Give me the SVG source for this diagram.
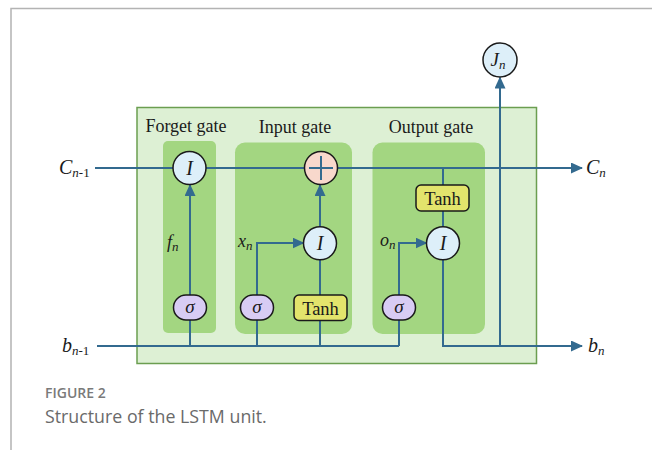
<svg xmlns="http://www.w3.org/2000/svg" width="652" height="450" viewBox="0 0 652 450">
<defs>
<marker id="ah" markerWidth="12" markerHeight="11" refX="11" refY="5.5" orient="auto" markerUnits="userSpaceOnUse">
<path d="M0,0 L12,5.5 L0,11 Z" fill="#336a8f"/>
</marker>
<style>
.ln{fill:none;stroke:#336a8f;stroke-width:2}
.circ{fill:#ddeff9;stroke:#1a1a1a;stroke-width:1.5}
.plus{fill:#f8d8cc;stroke:#1a1a1a;stroke-width:1.5}
.sig{fill:#d8ccf4;stroke:#1a1a1a;stroke-width:1.5}
.tanh{fill:#e3e46c;stroke:#1a1a1a;stroke-width:1.5}
.gate{fill:#a3d681}
.t{font-family:"Liberation Serif","Times New Roman",serif;fill:#1a1a1a}
.m{font-family:"Liberation Serif","Times New Roman",serif;font-style:italic;fill:#1a1a1a}
</style>
</defs>
<rect width="652" height="450" fill="#fff"/>
<path d="M11,450 V8.5 H652" fill="none" stroke="#b3b3b3" stroke-width="1.5"/>

<g id="outer">
<rect x="137" y="107.5" width="399.5" height="256" fill="#ddf0d4" stroke="#6b9e50" stroke-width="1.5"/>
</g>
<g id="forget-gate">
<rect class="gate" x="163" y="141" width="53" height="192" rx="5"/>
<text class="t" x="186" y="132" font-size="18" text-anchor="middle">Forget gate</text>
</g>
<g id="input-gate">
<rect class="gate" x="235" y="142.5" width="117" height="191.5" rx="10"/>
<text class="t" x="295" y="133" font-size="18" text-anchor="middle">Input gate</text>
</g>
<g id="output-gate">
<rect class="gate" x="372.5" y="142.5" width="112.5" height="191.5" rx="10"/>
<text class="t" x="431" y="133" font-size="18" text-anchor="middle">Output gate</text>
</g>

<g id="connectors">
<line class="ln" x1="95" y1="168" x2="173" y2="168"/>
<line class="ln" x1="206" y1="168" x2="304" y2="168"/>
<line class="ln" x1="338" y1="168" x2="582" y2="168" marker-end="url(#ah)"/>
<line class="ln" x1="97" y1="346" x2="399" y2="346"/>
<line class="ln" x1="399" y1="346" x2="399" y2="320"/>
<line class="ln" x1="190" y1="346" x2="190" y2="320"/>
<line class="ln" x1="257" y1="346" x2="257" y2="320"/>
<line class="ln" x1="320" y1="346" x2="320" y2="320"/>
<line class="ln" x1="190" y1="295" x2="190" y2="185" marker-end="url(#ah)"/>
<polyline class="ln" points="257,295 257,243 303.5,243" marker-end="url(#ah)"/>
<line class="ln" x1="320" y1="295" x2="320" y2="260"/>
<line class="ln" x1="320" y1="227" x2="320" y2="185" marker-end="url(#ah)"/>
<polyline class="ln" points="399,295 399,243 426.5,243" marker-end="url(#ah)"/>
<line class="ln" x1="443" y1="168" x2="443" y2="185"/>
<line class="ln" x1="443" y1="211" x2="443" y2="227"/>
<polyline class="ln" points="443,260 443,346 582,346" marker-end="url(#ah)"/>
<line class="ln" x1="500" y1="346" x2="500" y2="77.5" marker-end="url(#ah)"/>
</g>

<g id="forget-I">
<circle class="circ" cx="189.5" cy="168" r="16.5"/>
<text class="m" x="189.5" y="175" font-size="20" text-anchor="middle">I</text>
</g>
<g id="plus">
<circle class="plus" cx="321" cy="168" r="16.5"/>
<path d="M309,168 H333 M321,156 V180" stroke="#336a8f" stroke-width="2"/>
</g>
<g id="input-I">
<circle class="circ" cx="320" cy="243.3" r="16.5"/>
<text class="m" x="320" y="250.3" font-size="20" text-anchor="middle">I</text>
</g>
<g id="output-I">
<circle class="circ" cx="443" cy="243.3" r="16.5"/>
<text class="m" x="443" y="250.3" font-size="20" text-anchor="middle">I</text>
</g>
<g id="J">
<circle class="circ" cx="500" cy="60" r="17"/>
<text class="m" x="498" y="66" font-size="19" text-anchor="middle">J<tspan font-size="13" dy="3">n</tspan></text>
</g>
<g id="output-tanh">
<rect class="tanh" x="416" y="185" width="53" height="26" rx="5"/>
<text class="t" x="442.5" y="204.5" font-size="18.5" text-anchor="middle">Tanh</text>
</g>
<g id="input-tanh">
<rect class="tanh" x="294" y="295" width="53" height="25.5" rx="5"/>
<text class="t" x="320.5" y="314.5" font-size="18.5" text-anchor="middle">Tanh</text>
</g>
<g id="forget-sigma">
<rect class="sig" x="173.5" y="295" width="33" height="25" rx="12.5"/>
<text class="m" x="190" y="313" font-size="19" text-anchor="middle">σ</text>
</g>
<g id="input-sigma">
<rect class="sig" x="240.5" y="295" width="33" height="25" rx="12.5"/>
<text class="m" x="257" y="313" font-size="19" text-anchor="middle">σ</text>
</g>
<g id="output-sigma">
<rect class="sig" x="382.5" y="295" width="33" height="25" rx="12.5"/>
<text class="m" x="399" y="313" font-size="19" text-anchor="middle">σ</text>
</g>

<g id="labels">
<text class="m" x="59" y="174" font-size="20">C<tspan font-size="13" dy="3">n</tspan><tspan font-size="13" font-style="normal">-1</tspan></text>
<text class="m" x="586" y="174" font-size="20">C<tspan font-size="13" dy="3">n</tspan></text>
<text class="m" x="62" y="352" font-size="20">b<tspan font-size="13" dy="3">n</tspan><tspan font-size="13" font-style="normal">-1</tspan></text>
<text class="m" x="588" y="352" font-size="20">b<tspan font-size="13" dy="3">n</tspan></text>
<text class="m" x="167" y="248" font-size="18">f<tspan font-size="13" dy="3">n</tspan></text>
<text class="m" x="238" y="247" font-size="18">x<tspan font-size="13" dy="3">n</tspan></text>
<text class="m" x="380" y="246" font-size="18">o<tspan font-size="13" dy="3">n</tspan></text>
</g>

<g id="caption">
<text x="45" y="398" font-family="'Open Sans','Noto Sans',sans-serif" font-size="14" font-weight="600" fill="#7a7a7a">FIGURE 2</text>
<text x="45" y="423" font-family="'Open Sans','Noto Sans',sans-serif" font-size="17.8" fill="#6a6a6a">Structure of the LSTM unit.</text>
</g>
</svg>
